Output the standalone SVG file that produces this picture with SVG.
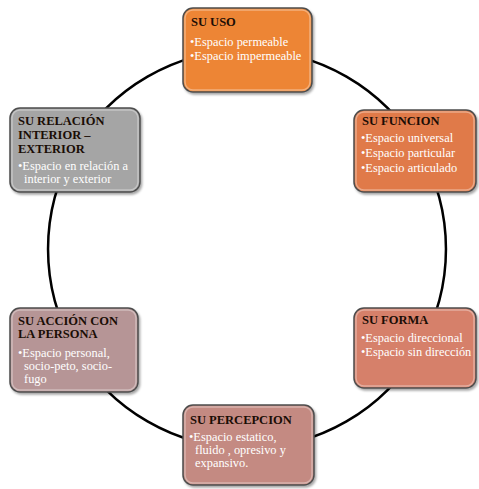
<svg xmlns="http://www.w3.org/2000/svg" width="479" height="489" viewBox="0 0 479 489">
<defs>
<filter id="sh" x="-10%" y="-10%" width="125%" height="130%">
<feDropShadow dx="1.5" dy="2" stdDeviation="1.2" flood-color="#000" flood-opacity="0.35"/>
</filter>
<style>
.box{stroke:#4d4d4d;stroke-width:1.5;filter:url(#sh)}
.hl{fill:none;stroke:#ffffff;stroke-opacity:0.35;stroke-width:1.5}
.t{font-family:"Liberation Serif","Times New Roman",serif;font-size:12.5px;font-weight:bold;fill:#1a0d05}
.b{font-family:"Liberation Serif","Times New Roman",serif;font-size:12.4px;fill:#ffffff}
.arc{fill:none;stroke:#000;stroke-width:2.5}
</style>
</defs>
<rect width="479" height="489" fill="#ffffff"/>
<g id="connectors">
<path class="arc" d="M247,50 A199,199 0 0 1 419.3,149.5"/>
<path class="arc" d="M419.3,149.5 A199,199 0 0 1 419.3,348.5"/>
<path class="arc" d="M419.3,348.5 A199,199 0 0 1 247,448"/>
<path class="arc" d="M247,448 A199,199 0 0 1 74.7,348.5"/>
<path class="arc" d="M74.7,348.5 A199,199 0 0 1 74.7,149.5"/>
<path class="arc" d="M74.7,149.5 A199,199 0 0 1 247,50"/>
</g>
<g id="uso">
<rect class="box" x="183" y="8" width="129" height="84" rx="10" fill="#ED8534"/>
<rect class="hl" x="185" y="10" width="125" height="80" rx="8"/>
<text class="t" x="191" y="26">SU USO</text>
<text class="b" x="190" y="46">•Espacio permeable</text>
<text class="b" x="190" y="60">•Espacio impermeable</text>
</g>
<g id="funcion">
<rect class="box" x="354" y="110" width="122" height="82" rx="10" fill="#E07A48"/>
<rect class="hl" x="356" y="112" width="118" height="78" rx="8"/>
<text class="t" x="362" y="125">SU FUNCION</text>
<text class="b" x="361" y="142">•Espacio universal</text>
<text class="b" x="361" y="157">•Espacio particular</text>
<text class="b" x="361" y="172">•Espacio articulado</text>
</g>
<g id="forma">
<rect class="box" x="354" y="308" width="122" height="80" rx="10" fill="#D6806A"/>
<rect class="hl" x="356" y="310" width="118" height="76" rx="8"/>
<text class="t" x="362" y="324">SU FORMA</text>
<text class="b" x="361" y="342">•Espacio direccional</text>
<text class="b" x="361" y="356">•Espacio sin dirección</text>
</g>
<g id="percepcion">
<rect class="box" x="183" y="405" width="131" height="80" rx="10" fill="#C48A82"/>
<rect class="hl" x="185" y="407" width="127" height="76" rx="8"/>
<text class="t" x="190" y="424">SU PERCEPCION</text>
<text class="b" x="189" y="441">•Espacio estatico,</text>
<text class="b" x="195" y="454">fluido , opresivo y</text>
<text class="b" x="195" y="467">expansivo.</text>
</g>
<g id="accion">
<rect class="box" x="10" y="308" width="128" height="84" rx="10" fill="#B69596"/>
<rect class="hl" x="12" y="310" width="124" height="80" rx="8"/>
<text class="t" x="18" y="325">SU ACCIÓN CON</text>
<text class="t" x="18" y="338">LA PERSONA</text>
<text class="b" x="18" y="357">•Espacio personal,</text>
<text class="b" x="24" y="370">socio-peto, socio-</text>
<text class="b" x="24" y="383">fugo</text>
</g>
<g id="relacion">
<rect class="box" x="10" y="108" width="130" height="84" rx="10" fill="#A5A5A5"/>
<rect class="hl" x="12" y="110" width="126" height="80" rx="8"/>
<text class="t" x="18" y="125">SU RELACIÓN</text>
<text class="t" x="18" y="139">INTERIOR –</text>
<text class="t" x="18" y="153">EXTERIOR</text>
<text class="b" x="18" y="170">•Espacio en relación a</text>
<text class="b" x="24" y="183">interior y exterior</text>
</g>
</svg>
